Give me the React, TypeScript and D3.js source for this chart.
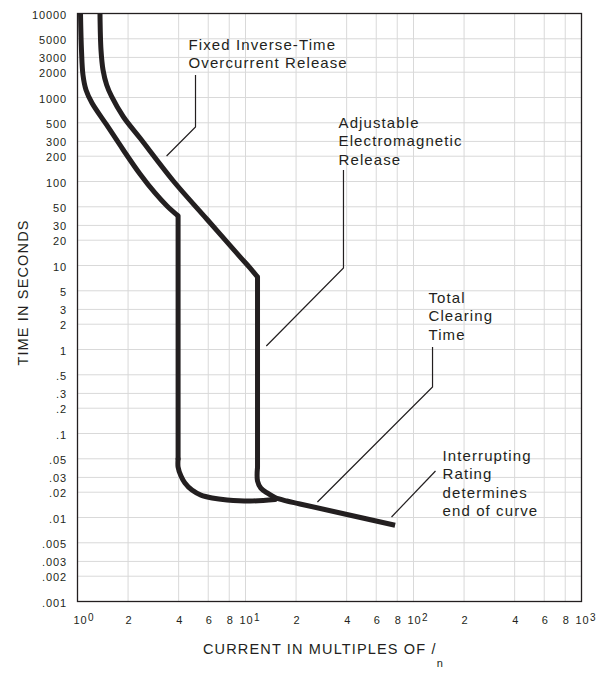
import React from "react";
import * as d3 from "d3";

// ---- data ----
const X_DOMAIN: [number, number] = [1, 1000];
const Y_DOMAIN: [number, number] = [0.001, 10000];

const X_GRID = [1, 2, 4, 6, 8, 10, 20, 40, 60, 80, 100, 200, 400, 600, 800, 1000];
const X_TICK_VALUES = [1, 2, 4, 6, 8, 10, 20, 40, 60, 80, 100, 200, 400, 600, 800, 1000];
const X_TICK_LABELS = ["10^0", "2", "4", "6", "8", "10^1", "2", "4", "6", "8", "10^2", "2", "4", "6", "8", "10^3"];

const Y_TICK_VALUES = [
  10000, 5000, 3000, 2000, 1000, 500, 300, 200, 100, 50, 30, 20, 10, 5, 3, 2, 1,
  0.5, 0.3, 0.2, 0.1, 0.05, 0.03, 0.02, 0.01, 0.005, 0.003, 0.002, 0.001,
];
const Y_TICK_LABELS = [
  "10000", "5000", "3000", "2000", "1000", "500", "300", "200", "100", "50", "30", "20", "10", "5", "3", "2", "1",
  ".5", ".3", ".2", ".1", ".05", ".03", ".02", ".01", ".005", ".003", ".002", ".001",
];

// Lower band: inverse-time part, instantaneous drop at 4×In, clearing tail
const LOW_INVERSE: [number, number][] = [
  [1.042, 10000], [1.056, 3677], [1.078, 1853], [1.124, 1229], [1.22, 860], [1.492, 471],
  [1.874, 237], [2.355, 122.8], [2.893, 73.0], [3.41, 51.1], [3.97, 38.9],
];
const LOW_DROP: [number, number][] = [[3.97, 38.9], [3.97, 0.05]];
const LOW_TAIL: [number, number][] = [
  [3.97, 0.05], [3.97, 0.0399], [4.13, 0.0312], [4.36, 0.0258], [4.8, 0.0212], [5.43, 0.0185],
  [6.33, 0.0171], [7.77, 0.0162], [10.66, 0.0157], [14.99, 0.0164],
];

// Upper band: inverse-time part, drop at 12×In, tail to interrupting rating
const HIGH_INVERSE: [number, number][] = [
  [1.361, 10000], [1.38, 3677], [1.419, 2125], [1.492, 1409], [1.598, 1022], [1.874, 590],
  [2.355, 329], [3.72, 101.4], [5.88, 35.8], [9.28, 12.7], [10.66, 9.33], [11.79, 7.3],
];
const HIGH_DROP: [number, number][] = [[11.79, 7.3], [11.79, 0.04]];
const HIGH_TAIL: [number, number][] = [
  [11.79, 0.04], [11.79, 0.0272], [12.34, 0.0224], [13.46, 0.0196], [14.99, 0.0173],
  [17.63, 0.0157], [21.1, 0.0145], [77.7, 0.0081],
];

const ANNOT_TEXTS: string[][] = [
  ["Fixed Inverse-Time", "Overcurrent Release"],
  ["Adjustable", "Electromagnetic", "Release"],
  ["Total", "Clearing", "Time"],
  ["Interrupting", "Rating", "determines", "end of curve"],
];
const ANNOT_ANCHORS: [number, number][] = [
  [4.58, 3677],
  [35.8, 433],
  [122.8, 3.58],
  [148.9, 0.0471],
];
const ANNOT_LEADERS: [number, number][][] = [
  [[5.04, 1853], [5.04, 446], [3.39, 201]],
  [[38.3, 137], [38.3, 9.33], [13.3, 1.1]],
  [[129.8, 1.07], [129.8, 0.358], [26.8, 0.0153]],
  [[135.2, 0.0358], [74.0, 0.01014]],
];

const Y_TITLE = "TIME IN SECONDS";
const X_TITLE = "CURRENT IN MULTIPLES OF /";
const X_TITLE_SUB = "n";

// ---- layout ----
const W = 608;
const H = 673;
const LEFT = 77.5;
const RIGHT = 581.5;
const TOP = 13.5;
const BOTTOM = 601.5;
const INK = "#231f20";
const FONT = "'Liberation Sans', Arial, Helvetica, sans-serif";

export default function App() {
  const x = d3.scaleLog().domain(X_DOMAIN).range([LEFT, RIGHT]);
  const y = d3.scaleLog().domain(Y_DOMAIN).range([BOTTOM, TOP]);
  const line = d3
    .line<[number, number]>()
    .x((d) => x(d[0]))
    .y((d) => y(d[1]))
    .curve(d3.curveLinear);
  const smooth = d3
    .line<[number, number]>()
    .x((d) => x(d[0]))
    .y((d) => y(d[1]))
    .curve(d3.curveCatmullRom.alpha(0.5));

  return (
    <svg
      width={W}
      height={H}
      style={{ position: "absolute", left: 0, top: 0, background: "#fff" }}
      fontFamily={FONT}
    >
      <rect x={0} y={0} width={W} height={H} fill="#fff" />
      {/* grid */}
      <g stroke="#d9d9d9" strokeWidth={1}>
        {Y_TICK_VALUES.map((v, i) => (
          <line key={"h" + i} x1={LEFT} x2={RIGHT} y1={y(v)} y2={y(v)} />
        ))}
        {X_GRID.map((v, i) => (
          <line key={"v" + i} x1={x(v)} x2={x(v)} y1={TOP} y2={BOTTOM} />
        ))}
      </g>

      {/* frame */}
      <rect
        x={LEFT}
        y={TOP}
        width={RIGHT - LEFT}
        height={BOTTOM - TOP}
        fill="none"
        stroke={INK}
        strokeWidth={1.3}
      />

      {/* y tick labels */}
      <g fontSize={11} fill={INK} letterSpacing={0.9} textAnchor="end">
        {Y_TICK_VALUES.map((v, i) => (
          <text key={"yl" + i} x={67} y={y(v) + 5}>
            {Y_TICK_LABELS[i]}
          </text>
        ))}
      </g>

      {/* x tick labels */}
      <g fontSize={11} fill={INK} letterSpacing={0.9}>
        {X_TICK_VALUES.map((v, i) => {
          const lab = X_TICK_LABELS[i];
          const px = x(v);
          if (lab.includes("^")) {
            const [base, exp] = lab.split("^");
            const cx = i === 0 ? px + 3 : px + 1;
            return (
              <g key={"xl" + i}>
                <text x={cx} y={624} textAnchor="middle">
                  {base}
                </text>
                <text x={cx + 7.5} y={620.5} fontSize={10}>
                  {exp}
                </text>
              </g>
            );
          }
          return (
            <text key={"xl" + i} x={px + 1} y={624} textAnchor="middle">
              {lab}
            </text>
          );
        })}
      </g>

      {/* curves */}
      <g fill="none" stroke={INK} strokeWidth={5} strokeLinejoin="round" strokeLinecap="round">
        <path d={smooth(LOW_INVERSE) || ""} strokeLinecap="butt" />
        <path d={line(LOW_DROP) || ""} />
        <path d={smooth(LOW_TAIL) || ""} />
        <path d={smooth(HIGH_INVERSE) || ""} strokeLinecap="butt" />
        <path d={line(HIGH_DROP) || ""} />
        <path d={smooth(HIGH_TAIL) || ""} strokeLinecap="butt" />
      </g>

      {/* leaders */}
      <g fill="none" stroke={INK} strokeWidth={1.2}>
        {ANNOT_LEADERS.map((pts, i) => (
          <path key={"ld" + i} d={line(pts) || ""} />
        ))}
      </g>

      {/* annotation texts */}
      <g fontSize={15} fill={INK} letterSpacing={1.1}>
        {ANNOT_TEXTS.map((lines, i) => (
          <text key={"at" + i} x={x(ANNOT_ANCHORS[i][0])} y={y(ANNOT_ANCHORS[i][1])}>
            {lines.map((t, j) => (
              <tspan key={j} x={x(ANNOT_ANCHORS[i][0])} dy={j === 0 ? 0 : 18.4}>
                {t}
              </tspan>
            ))}
          </text>
        ))}
      </g>

      {/* axis titles */}
      <text
        transform={`translate(28,292.5) rotate(-90)`}
        textAnchor="middle"
        fontSize={14.5}
        letterSpacing={1.15}
        fill={INK}
      >
        {Y_TITLE}
      </text>
      <text x={203} y={654} fontSize={14.5} letterSpacing={1.15} fill={INK}>
        {X_TITLE}
        <tspan fontSize={11} dy={13} letterSpacing={0}>
          {X_TITLE_SUB}
        </tspan>
      </text>
    </svg>
  );
}
